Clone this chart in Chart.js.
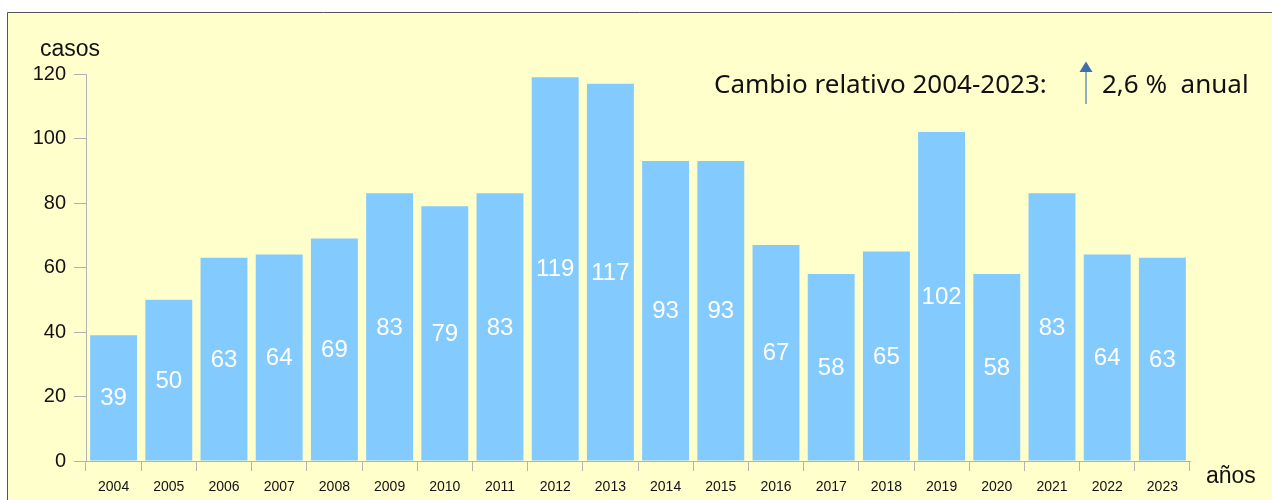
<!DOCTYPE html>
<html>
<head>
<meta charset="utf-8">
<script src="https://cdn.jsdelivr.net/npm/chart.js@4"></script>
<style>
  html, body { margin: 0; padding: 0; background: #fff; }
  #wrap { width: 1272px; height: 500px; position: relative; }
</style>
</head>
<body>
<div id="wrap"><canvas id="chart" width="1272" height="500"></canvas></div>
<script>
const years = ['2004', '2005', '2006', '2007', '2008', '2009', '2010', '2011', '2012', '2013',
    '2014', '2015', '2016', '2017', '2018', '2019', '2020', '2021', '2022', '2023']
const cases = [39, 50, 63, 64, 69, 83, 79, 83, 119, 117, 93, 93, 67, 58, 65, 102, 58, 83, 64, 63]
const yTicks = [0, 20, 40, 60, 80, 100, 120]
const yTitle = 'casos'
const xTitle = 'años'
const noteText = 'Cambio relativo 2004-2023:'
const noteValue = '2,6 %  anual'

const baseFont = '"Liberation Sans", Arial, sans-serif'
const axisGrey = '#b3b3b3'

// background and frame, like the exported sheet
const framePlugin = {
    id: 'frame',
    beforeDraw(chart) {
        const ctx = chart.ctx
        ctx.save()
        ctx.fillStyle = '#ffffcc'
        ctx.fillRect(7, 12, chart.width, chart.height)
        ctx.strokeStyle = '#555555'
        ctx.lineWidth = 1
        ctx.beginPath()
        ctx.moveTo(7.5, chart.height)
        ctx.lineTo(7.5, 12.5)
        ctx.lineTo(chart.width, 12.5)
        ctx.stroke()
        ctx.restore()
    }
}

// values in the middle of the bars, axis titles and the note
const textPlugin = {
    id: 'texts',
    afterDatasetsDraw(chart) {
        const ctx = chart.ctx
        const meta = chart.getDatasetMeta(0)
        ctx.save()
        ctx.fillStyle = '#ffffff'
        ctx.font = '24px ' + baseFont
        ctx.textAlign = 'center'
        ctx.textBaseline = 'middle'
        meta.data.forEach((bar, i) => {
            const mid = (bar.y + bar.base) / 2
            ctx.fillText(String(cases[i]), bar.x, mid + 1)
        })

        ctx.fillStyle = '#111111'
        ctx.font = '23px ' + baseFont
        ctx.textAlign = 'left'
        ctx.textBaseline = 'alphabetic'
        ctx.fillText(yTitle, 40, 56)
        ctx.fillText(xTitle, 1206, 483)

        ctx.font = '26px "Noto Sans", "Open Sans", sans-serif'
        ctx.textBaseline = 'alphabetic'
        ctx.fillText(noteText, 714, 93)
        ctx.fillText(noteValue, 1102, 93)

        // arrow
        ctx.strokeStyle = '#4a78b8'
        ctx.fillStyle = '#3d6fb0'
        ctx.lineWidth = 1.2
        ctx.beginPath()
        ctx.moveTo(1086, 104)
        ctx.lineTo(1086, 71)
        ctx.stroke()
        ctx.beginPath()
        ctx.moveTo(1086, 61.5)
        ctx.lineTo(1079.5, 72)
        ctx.lineTo(1092.5, 72)
        ctx.closePath()
        ctx.fill()
        ctx.restore()
    }
}

const ctx = document.getElementById('chart').getContext('2d')
new Chart(ctx, {
    type: 'bar',
    data: {
        labels: years,
        datasets: [{
            data: cases,
            backgroundColor: '#83caff',
            borderWidth: 0,
            barPercentage: 0.85,
            categoryPercentage: 1
        }]
    },
    options: {
        responsive: false,
        animation: false,
        events: [],
        layout: { padding: { top: 74, right: 82, left: 0, bottom: 0 } },
        plugins: { legend: { display: false }, tooltip: { enabled: false } },
        scales: {
            x: {
                offset: true,
                grid: {
                    offset: true,
                    drawOnChartArea: false,
                    drawTicks: true,
                    tickLength: 10,
                    color: axisGrey
                },
                border: { color: axisGrey, width: 1 },
                ticks: {
                    color: '#111111',
                    font: { family: baseFont, size: 14 },
                    padding: 8,
                    maxRotation: 0,
                    autoSkip: false
                },
                afterFit(scale) { scale.height = 39 }
            },
            y: {
                min: 0,
                max: 120,
                afterBuildTicks(scale) { scale.ticks = yTicks.map(v => ({ value: v })) },
                grid: {
                    drawOnChartArea: false,
                    drawTicks: true,
                    tickLength: 12,
                    color: axisGrey
                },
                border: { color: axisGrey, width: 1 },
                ticks: {
                    color: '#111111',
                    font: { family: baseFont, size: 20 },
                    padding: 8
                },
                afterFit(scale) { scale.width = 86 }
            }
        }
    },
    plugins: [framePlugin, textPlugin]
})
</script>
</body>
</html>
